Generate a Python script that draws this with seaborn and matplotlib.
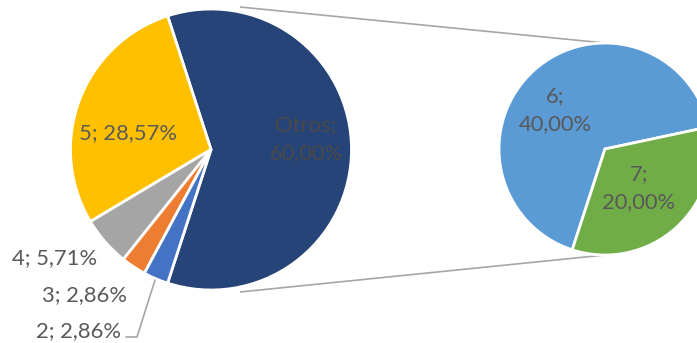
import matplotlib
matplotlib.use("Agg")
import matplotlib.pyplot as plt
import seaborn as sns

# Main pie: "Otros" groups the categories broken out in the secondary pie
main_labels = ["Otros", "5", "4", "3", "2"]
main_values = [60.00, 28.57, 5.71, 2.86, 2.86]
main_colors = ["#264478", "#FFC000", "#A5A5A5", "#ED7D31", "#4472C4"]

# Secondary pie: breakdown of "Otros"
sub_labels = ["6", "7"]
sub_values = [40.00, 20.00]
sub_colors = ["#5B9BD5", "#70AD47"]

sns.set_theme(style="white")
plt.rcParams["font.family"] = ["Lato", "DejaVu Sans"]

W, H = 697, 343
fig = plt.figure(figsize=(W / 100, H / 100), dpi=100)
ax = fig.add_axes([0, 0, 1, 1])

TEXT = "#595959"
LINE = "#A6A6A6"
FS = 15.8
LS = 1.5


def pct(v):
    return f"{v:.2f}".replace(".", ",") + "%"


main_c = (211, H - 149.5)
main_r = 140.5
sub_c = (605, H - 149)
sub_r = 106

# "Otros" wedge centred on the right-hand side
start_main = -180 * main_values[0] / sum(main_values)
ax.pie(main_values, colors=main_colors, startangle=start_main,
       counterclock=True, center=main_c, radius=main_r, frame=True,
       wedgeprops=dict(edgecolor="white", linewidth=2.0))

ax.pie(sub_values, colors=sub_colors, startangle=12, counterclock=True,
       center=sub_c, radius=sub_r, frame=True,
       wedgeprops=dict(edgecolor="white", linewidth=2.0))

# Connector lines between the two pies
ax.plot([240, sub_c[0]], [H - 7, sub_c[1] + sub_r], color=LINE, lw=1.2,
        solid_capstyle="butt", zorder=0)
ax.plot([240, sub_c[0]], [H - 292, sub_c[1] - sub_r], color=LINE, lw=1.2,
        solid_capstyle="butt", zorder=0)

# Data labels
ax.text(306, H - 139, f"{main_labels[0]};\n{pct(main_values[0])}", ha="center",
        va="center", fontsize=FS, color="#4a4a4a", linespacing=LS)
ax.text(128, H - 133, f"{main_labels[1]}; {pct(main_values[1])}", ha="center",
        va="center", fontsize=FS, color=TEXT)
ax.text(97, H - 258, f"{main_labels[2]}; {pct(main_values[2])}", ha="right",
        va="center", fontsize=FS, color=TEXT)
ax.text(127, H - 295, f"{main_labels[3]}; {pct(main_values[3])}", ha="right",
        va="center", fontsize=FS, color=TEXT)
ax.text(121, H - 331, f"{main_labels[4]}; {pct(main_values[4])}", ha="right",
        va="center", fontsize=FS, color=TEXT)
# Leader line for the smallest slice
ax.plot([126, 137, 155], [H - 337, H - 337, H - 280], color=LINE, lw=1.2)

ax.text(555, H - 110, f"{sub_labels[0]};\n{pct(sub_values[0])}", ha="center",
        va="center", fontsize=FS, color=TEXT, linespacing=LS)
ax.text(639, H - 188, f"{sub_labels[1]};\n{pct(sub_values[1])}", ha="center",
        va="center", fontsize=FS, color=TEXT, linespacing=LS)

ax.set_xlim(0, W)
ax.set_ylim(0, H)
ax.set_aspect("equal")
ax.axis("off")

fig.savefig("out.png", dpi=100, facecolor="white")
